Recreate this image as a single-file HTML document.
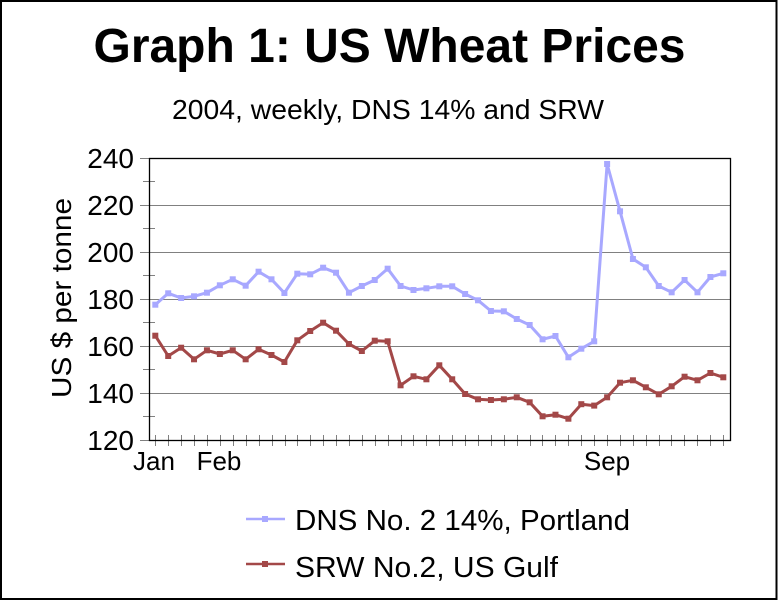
<!DOCTYPE html>
<html><head><meta charset="utf-8"><style>
html,body{margin:0;padding:0;background:#fff;}
svg{display:block;}
text{font-family:"Liberation Sans",Arial,sans-serif;fill:#000;}
</style></head><body>
<svg width="778" height="600" viewBox="0 0 778 600" xmlns="http://www.w3.org/2000/svg">
<defs>
<marker id="mb" markerUnits="userSpaceOnUse" markerWidth="8" markerHeight="8" refX="4" refY="4"><rect x="1" y="1" width="6" height="6" fill="#A8A8FF"/></marker>
<marker id="mr" markerUnits="userSpaceOnUse" markerWidth="8" markerHeight="8" refX="4" refY="4"><rect x="1" y="1" width="6" height="6" fill="#A34848"/></marker>
</defs>
<rect x="0" y="0" width="778" height="600" fill="#fff"/>
<rect x="1" y="1" width="775.5" height="598" fill="none" stroke="#000" stroke-width="2"/>

<text x="389.5" y="62" font-size="48" font-weight="bold" text-anchor="middle" textLength="592" lengthAdjust="spacingAndGlyphs">Graph 1: US Wheat Prices</text>
<text x="388" y="119" font-size="28" text-anchor="middle" textLength="432" lengthAdjust="spacingAndGlyphs">2004, weekly, DNS 14% and SRW</text>

<text transform="translate(71,298) rotate(-90)" font-size="28" text-anchor="middle" textLength="200" lengthAdjust="spacingAndGlyphs">US $ per tonne</text>

<g stroke="#808080" stroke-width="1">
<line x1="150" y1="205.5" x2="730" y2="205.5"/>
<line x1="150" y1="252.5" x2="730" y2="252.5"/>
<line x1="150" y1="299.5" x2="730" y2="299.5"/>
<line x1="150" y1="346.5" x2="730" y2="346.5"/>
<line x1="150" y1="393.5" x2="730" y2="393.5"/>
<line x1="140" y1="158.5" x2="150" y2="158.5"/>
<line x1="140" y1="205.5" x2="150" y2="205.5"/>
<line x1="140" y1="252.5" x2="150" y2="252.5"/>
<line x1="140" y1="299.5" x2="150" y2="299.5"/>
<line x1="140" y1="346.5" x2="150" y2="346.5"/>
<line x1="140" y1="393.5" x2="150" y2="393.5"/>
<line x1="140" y1="440.5" x2="150" y2="440.5"/>
<line x1="143" y1="181.5" x2="155" y2="181.5"/>
<line x1="143" y1="228.5" x2="155" y2="228.5"/>
<line x1="143" y1="275.5" x2="155" y2="275.5"/>
<line x1="143" y1="322.5" x2="155" y2="322.5"/>
<line x1="143" y1="369.5" x2="155" y2="369.5"/>
<line x1="143" y1="416.5" x2="155" y2="416.5"/>
</g>
<g stroke="#808080" stroke-width="1">
<line x1="155.5" y1="435" x2="155.5" y2="446"/><line x1="168.5" y1="435" x2="168.5" y2="446"/><line x1="181.5" y1="435" x2="181.5" y2="446"/><line x1="194.5" y1="435" x2="194.5" y2="446"/><line x1="207.5" y1="435" x2="207.5" y2="446"/><line x1="220.5" y1="435" x2="220.5" y2="446"/><line x1="233.5" y1="435" x2="233.5" y2="446"/><line x1="246.5" y1="435" x2="246.5" y2="446"/><line x1="259.5" y1="435" x2="259.5" y2="446"/><line x1="272.5" y1="435" x2="272.5" y2="446"/><line x1="285.5" y1="435" x2="285.5" y2="446"/><line x1="297.5" y1="435" x2="297.5" y2="446"/><line x1="310.5" y1="435" x2="310.5" y2="446"/><line x1="323.5" y1="435" x2="323.5" y2="446"/><line x1="336.5" y1="435" x2="336.5" y2="446"/><line x1="349.5" y1="435" x2="349.5" y2="446"/><line x1="362.5" y1="435" x2="362.5" y2="446"/><line x1="375.5" y1="435" x2="375.5" y2="446"/><line x1="388.5" y1="435" x2="388.5" y2="446"/><line x1="401.5" y1="435" x2="401.5" y2="446"/><line x1="413.5" y1="435" x2="413.5" y2="446"/><line x1="426.5" y1="435" x2="426.5" y2="446"/><line x1="439.5" y1="435" x2="439.5" y2="446"/><line x1="452.5" y1="435" x2="452.5" y2="446"/><line x1="465.5" y1="435" x2="465.5" y2="446"/><line x1="478.5" y1="435" x2="478.5" y2="446"/><line x1="491.5" y1="435" x2="491.5" y2="446"/><line x1="504.5" y1="435" x2="504.5" y2="446"/><line x1="517.5" y1="435" x2="517.5" y2="446"/><line x1="530.5" y1="435" x2="530.5" y2="446"/><line x1="542.5" y1="435" x2="542.5" y2="446"/><line x1="555.5" y1="435" x2="555.5" y2="446"/><line x1="568.5" y1="435" x2="568.5" y2="446"/><line x1="581.5" y1="435" x2="581.5" y2="446"/><line x1="594.5" y1="435" x2="594.5" y2="446"/><line x1="607.5" y1="435" x2="607.5" y2="446"/><line x1="620.5" y1="435" x2="620.5" y2="446"/><line x1="633.5" y1="435" x2="633.5" y2="446"/><line x1="646.5" y1="435" x2="646.5" y2="446"/><line x1="659.5" y1="435" x2="659.5" y2="446"/><line x1="671.5" y1="435" x2="671.5" y2="446"/><line x1="684.5" y1="435" x2="684.5" y2="446"/><line x1="697.5" y1="435" x2="697.5" y2="446"/><line x1="710.5" y1="435" x2="710.5" y2="446"/><line x1="723.5" y1="435" x2="723.5" y2="446"/>
</g>
<rect x="149.5" y="158.5" width="581" height="282" fill="none" stroke="#000" stroke-width="1.3"/>

<g font-size="28" text-anchor="end">
<text x="134" y="168">240</text>
<text x="134" y="215">220</text>
<text x="134" y="262">200</text>
<text x="134" y="309">180</text>
<text x="134" y="356">160</text>
<text x="134" y="403">140</text>
<text x="134" y="450">120</text>
</g>
<g font-size="26" text-anchor="middle">
<text x="154" y="470">Jan</text>
<text x="219" y="470">Feb</text>
<text x="607" y="470">Sep</text>
</g>

<polyline fill="none" stroke="#A8A8FF" stroke-width="3" stroke-linejoin="round" marker-start="url(#mb)" marker-mid="url(#mb)" marker-end="url(#mb)" points="155.3,304.7 168.21,293.3 181.12,298 194.03,296.3 206.94,292.7 219.85,285.3 232.75,279.3 245.66,285.7 258.57,271.7 271.48,279.3 284.39,293 297.3,273.7 310.21,274.3 323.12,267.7 336.03,272.7 348.94,292.7 361.84,286 374.75,280 387.66,268.7 400.57,286 413.48,290 426.39,288.3 439.3,286.3 452.21,286.3 465.12,294 478.03,300.3 490.93,311 503.84,311.3 516.75,319 529.66,325 542.57,339.3 555.48,336 568.39,357.3 581.3,348.7 594.21,341.3 607.12,164 620.03,211.3 632.93,259 645.84,267.3 658.75,286 671.66,292.3 684.57,280 697.48,292.3 710.39,277 723.3,273.3"/>

<polyline fill="none" stroke="#A34848" stroke-width="3" stroke-linejoin="round" marker-start="url(#mr)" marker-mid="url(#mr)" marker-end="url(#mr)" points="155.3,335.7 168.21,356 181.12,347.7 194.03,359.3 206.94,350.3 219.85,354 232.75,350.3 245.66,359.3 258.57,349.3 271.48,355 284.39,362 297.3,340.3 310.21,331 323.12,322.7 336.03,330.7 348.94,344 361.84,351 374.75,340.7 387.66,341.3 400.57,385.3 413.48,376.3 426.39,379.3 439.3,365.3 452.21,379.3 465.12,394 478.03,399.3 490.93,400 503.84,399.3 516.75,397.3 529.66,402.3 542.57,416.3 555.48,414.7 568.39,418.7 581.3,404.2 594.21,405.6 607.12,397.3 620.03,382.7 632.93,380.3 645.84,387.3 658.75,394.3 671.66,386.3 684.57,376.7 697.48,380.3 710.39,373 723.3,377.3"/>

<line x1="246" y1="519" x2="285" y2="519" stroke="#A8A8FF" stroke-width="2.5"/>
<rect x="262" y="516" width="6" height="6" fill="#A8A8FF"/>
<line x1="246" y1="564" x2="285" y2="564" stroke="#A34848" stroke-width="2.5"/>
<rect x="262" y="561" width="6" height="6" fill="#A34848"/>
<text x="295" y="530" font-size="29" textLength="335" lengthAdjust="spacingAndGlyphs">DNS No. 2 14%, Portland</text>
<text x="295" y="577" font-size="29" textLength="263" lengthAdjust="spacingAndGlyphs">SRW No.2, US Gulf</text>
</svg>
</body></html>
